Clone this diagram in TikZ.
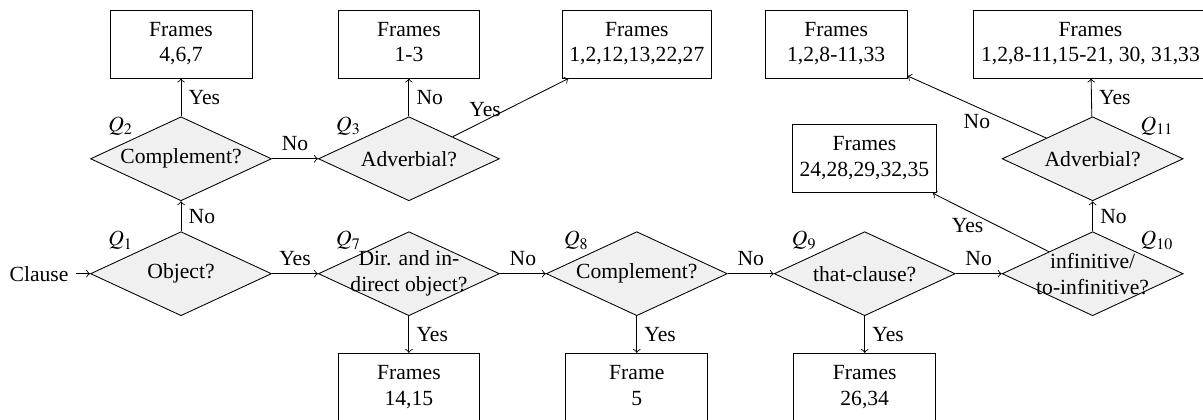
\documentclass[tikz,border=0pt]{standalone}
\usepackage{mathptmx}
\usepackage{fontspec}
\setmainfont{Liberation Serif}
\usetikzlibrary{arrows, positioning, shapes.geometric}
\tikzset{%
	decision/.style={draw, diamond, minimum width=83.8pt, minimum height=38.9pt,%
		inner sep=0pt, fill=gray!12},
	result/.style={draw, rectangle, align=center, minimum width=65.7pt,%
		minimum height=31.5pt, text depth=2pt},
	qtext/.style={align=center},
	qnum/.style={inner sep=1pt},
	sel/.style={->}
}

\begin{document}
\begin{tikzpicture}[node distance=21.3pt]
	\useasboundingbox (-83.8pt,-67.3pt) rectangle (473.1pt,126.7pt);

	% question row
	\node[decision, label={[qtext]center:Object?},
		label={[qnum]north west:$Q_{1}$}] (q1) at (0,0) {};
	\node[decision, right=of q1, label={[qtext]center:Dir. and in-\\direct object?},
		label={[qnum]north west:$Q_{7}$}] (q7) {};
	\node[decision, right=of q7, label={[qtext]center:Complement?},
		label={[qnum]north west:$Q_{8}$}] (q8) {};
	\node[decision, right=of q8, label={[qtext]center:that-clause?},
		label={[qnum]north west:$Q_{9}$}] (q9) {};
	\node[decision, right=of q9, label={[qtext]center:infinitive/\\to-infinitive?},
		label={[qnum]north east:$Q_{10}$}] (q10) {};
	\node[left=6.5pt of q1] (clause) {Clause};

	% upper questions
	\node[decision, above=13.9pt of q1, label={[qtext]center:Complement?},
		label={[qnum]north west:$Q_{2}$}] (q2) {};
	\node[decision, right=of q2, label={[qtext]center:Adverbial?},
		label={[qnum]north west:$Q_{3}$}] (q3) {};
	\node[decision, above=13.9pt of q10, label={[qtext]center:Adverbial?},
		label={[qnum]north east:$Q_{11}$}] (q11) {};

	% frames
	\node[result, above=17.5pt of q2]   (f2)  {Frames\\4,6,7};
	\node[result, above=17.5pt of q3]   (f3no)  {Frames\\1-3};
	\node[result] at (q8 |- f3no)       (f3yes) {Frames\\1,2,12,13,22,27};
	\node[result, above=17.5pt of q11, xshift=-1pt] (f11yes) {Frames\\1,2,8-11,15-21, 30, 31,33};
	\node[result, left=30.5pt of f11yes] (f11no) {Frames\\1,2,8-11,33};
	\node[result, left=30pt of q11]     (f10) {Frames\\24,28,29,32,35};
	\node[result, below=17pt of q7]     (f7)  {Frames\\14,15};
	\node[result, below=17pt of q8]     (f8)  {Frame\\5};
	\node[result, below=17pt of q9]     (f9)  {Frames\\26,34};

	\draw[sel] (clause) -- (q1);
	\draw[sel] (q1)  -- node[right]{No} (q2);
	\draw[sel] (q1)  -- node[above]{Yes} (q7);
	\draw[sel] (q2)  -- node[right]{Yes} (f2);
	\draw[sel] (q2)  -- node[above]{No} (q3);
	\draw[sel] (q3)  -- node[right]{No} (f3no);
	\draw[sel] (q3)  -- node[pos=0.28, above, inner sep=1.5pt]{Yes} (f3yes);
	\draw[sel] (q7)  -- node[right]{Yes} (f7);
	\draw[sel] (q7)  -- node[above]{No} (q8);
	\draw[sel] (q8)  -- node[right]{Yes} (f8);
	\draw[sel] (q8)  -- node[above]{No} (q9);
	\draw[sel] (q9)  -- node[right]{Yes} (f9);
	\draw[sel] (q9)  -- node[above]{No} (q10);
	\draw[sel] (q10) -- node[right]{No} (q11);
	\draw[sel] (q10) -- node[pos=0.7, below]{Yes} (f10);
	\draw[sel] (q11) -- node[right]{Yes} (f11yes);
	\draw[sel] (q11) -- node[below]{No} (f11no);
\end{tikzpicture}
\end{document}
